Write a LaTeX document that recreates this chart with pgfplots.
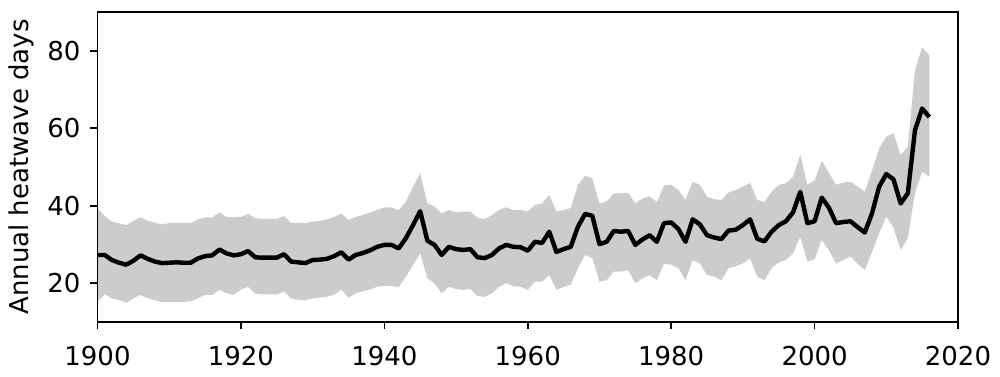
\documentclass[border=0pt]{standalone}
\usepackage{fontspec}
\setmainfont{DejaVu Sans}
\usepackage{pgfplots}
\usepackage{pgfplotstable}
\pgfplotsset{compat=1.18}
\usepgfplotslibrary{fillbetween}
\definecolor{bandgray}{HTML}{CCCCCC}
\pgfplotstableread{
year mean lo up
1900 27.3 15.2 39.3
1901 27.3 17.2 37.4
1902 26.0 16.1 35.9
1903 25.3 15.7 35.5
1904 24.8 15.0 35.0
1905 25.8 16.1 36.1
1906 27.2 17.0 37.0
1907 26.3 16.1 36.1
1908 25.6 15.6 35.6
1909 25.2 15.1 35.2
1910 25.3 15.1 35.5
1911 25.4 15.1 35.5
1912 25.3 15.1 35.5
1913 25.3 15.4 35.5
1914 26.4 16.1 36.5
1915 27.0 17.0 37.0
1916 27.2 17.0 37.0
1917 28.7 18.3 38.3
1918 27.7 17.4 37.1
1919 27.2 17.0 37.0
1920 27.5 18.4 37.1
1921 28.3 19.1 37.9
1922 26.7 17.4 36.8
1923 26.6 17.1 36.6
1924 26.6 17.1 36.6
1925 26.6 17.1 36.6
1926 27.5 17.9 37.3
1927 25.6 16.1 35.6
1928 25.4 15.7 35.5
1929 25.2 15.6 35.5
1930 26.0 16.1 35.9
1931 26.1 16.3 36.1
1932 26.3 16.5 36.5
1933 27.0 17.1 37.1
1934 28.0 18.3 38.0
1935 26.1 16.3 36.3
1936 27.3 17.4 37.1
1937 27.8 17.9 37.6
1938 28.5 18.4 38.3
1939 29.4 19.1 38.9
1940 29.9 19.3 39.6
1941 29.9 19.3 39.6
1942 29.0 19.0 38.9
1943 31.6 21.7 41.0
1944 35.0 24.7 44.9
1945 38.6 27.7 48.4
1946 31.0 21.3 40.6
1947 29.9 20.0 39.8
1948 27.3 17.4 38.0
1949 29.4 19.1 38.9
1950 28.8 18.5 38.3
1951 28.6 18.3 38.5
1952 28.8 18.5 38.5
1953 26.7 16.7 36.8
1954 26.5 16.5 36.6
1955 27.3 17.4 37.6
1956 29.0 19.1 38.9
1957 29.9 20.0 39.6
1958 29.4 19.2 38.9
1959 29.3 19.1 38.9
1960 28.4 18.3 38.5
1961 30.7 20.4 40.2
1962 30.4 20.4 40.6
1963 33.3 22.1 42.8
1964 28.1 18.3 38.5
1965 28.8 19.1 38.9
1966 29.4 19.6 39.4
1967 34.6 23.9 45.4
1968 37.9 27.3 47.7
1969 37.4 26.5 47.1
1970 30.1 20.4 40.6
1971 30.7 20.8 41.1
1972 33.5 23.0 43.2
1973 33.3 23.0 43.2
1974 33.5 23.4 43.3
1975 29.9 20.0 40.6
1976 31.3 21.3 41.9
1977 32.4 22.1 42.4
1978 30.7 20.8 41.0
1979 35.5 25.0 45.2
1980 35.7 24.8 45.4
1981 34.0 23.9 44.1
1982 30.7 20.8 41.5
1983 36.5 26.0 46.2
1984 35.2 25.1 45.4
1985 32.4 22.1 42.3
1986 31.8 21.7 41.7
1987 31.4 20.8 41.5
1988 33.6 23.9 43.4
1989 33.8 24.4 44.1
1990 35.0 25.1 44.9
1991 36.5 26.4 45.9
1992 31.5 21.7 41.5
1993 30.8 20.8 41.0
1994 33.3 23.9 43.6
1995 35.0 25.4 45.4
1996 36.0 26.0 45.8
1997 38.3 27.7 47.5
1998 43.6 32.0 53.2
1999 35.5 25.6 45.4
2000 36.0 26.2 46.5
2001 42.1 31.2 51.6
2002 39.5 28.5 48.5
2003 35.5 25.1 45.4
2004 35.8 26.0 46.0
2005 36.0 26.9 46.2
2006 34.5 25.0 45.0
2007 33.1 23.4 43.6
2008 38.0 28.0 49.0
2009 44.9 32.9 54.8
2010 48.2 37.2 57.8
2011 46.8 34.3 58.7
2012 40.6 28.6 53.1
2013 43.2 31.6 55.2
2014 59.5 43.3 75.0
2015 65.1 48.8 80.9
2016 62.9 47.5 78.9
}\datatable
\begin{document}
\begin{tikzpicture}
\path (-48.75pt,-27pt) rectangle (451.25pt,161pt);
\begin{axis}[
  at={(0,0)}, anchor=south west,
  scale only axis,
  width=430.25pt, height=155pt,
  xmin=1900, xmax=2020, ymin=10, ymax=90,
  xtick={1900,1920,...,2020},
  ytick={20,40,60,80},
  /pgf/number format/assume math mode=true,
  /pgf/number format/1000 sep={},
  tick align=outside,
  xtick pos=bottom, ytick pos=left,
  major tick length=3.5pt,
  tick style={line width=0.8pt, black},
  axis line style={line width=0.8pt},
  tick label style={font=\fontsize{13}{15.6}\selectfont},
  xticklabel style={yshift=-5pt},
  yticklabel style={xshift=-1.5pt},
  ylabel={Annual heatwave days},
  ylabel style={font=\fontsize{13}{15.6}\selectfont, at={(axis description cs:0,0.5)}, anchor=center, rotate=0, xshift=0pt, yshift=38.25pt},
  axis on top,
]
\addplot[draw=none, name path=up, forget plot] table[x=year, y=up] {\datatable};
\addplot[draw=none, name path=lo, forget plot] table[x=year, y=lo] {\datatable};
\addplot[fill=bandgray, draw=none] fill between[of=up and lo];
\addplot[black, line width=2.2pt, line join=round] table[x=year, y=mean] {\datatable};
\end{axis}
\end{tikzpicture}
\end{document}
